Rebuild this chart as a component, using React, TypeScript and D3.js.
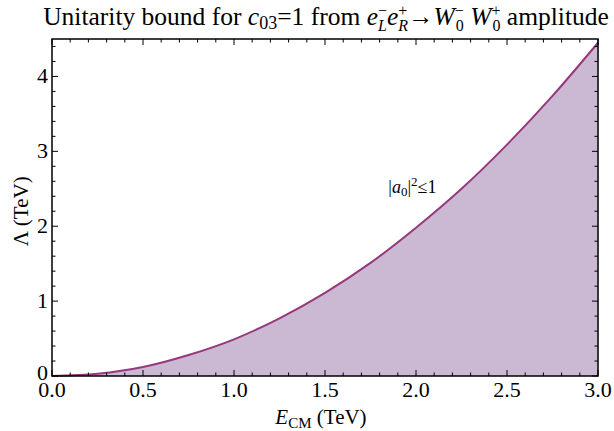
import React, { useRef, useEffect } from "react";
import * as d3 from "d3";

// values (TeV)
const energy = [0, 0.25, 0.5, 0.75, 1.0, 1.25, 1.5, 1.75, 2.0, 2.25, 2.5, 2.75, 3.0];
const lambda = [0, 0.03, 0.12, 0.28, 0.49, 0.77, 1.11, 1.51, 1.98, 2.5, 3.09, 3.74, 4.45];
const xTicks = [0, 0.5, 1.0, 1.5, 2.0, 2.5, 3.0];
const yTicks = [0, 1, 2, 3, 4];
const regionLabel = { e: 1.98, l: 2.45 };

const FONT = "'Liberation Serif', 'DejaVu Serif', serif";

function App() {
  const svgRef = useRef<SVGSVGElement>(null);

  useEffect(() => {
    const svg = d3.select(svgRef.current);
    svg.selectAll("*").remove();

    const width = 614;
    const height = 431;
    const margin = { left: 52, right: 16, top: 39, bottom: 55 };

    const x = d3.scaleLinear().domain([0, 3]).range([margin.left, width - margin.right]);
    const y = d3.scaleLinear().domain([0, 4.5]).range([height - margin.bottom, margin.top]);

    const data = energy.map((e, i) => ({ e, l: lambda[i] }));

    const area = d3
      .area<{ e: number; l: number }>()
      .x((d) => x(d.e))
      .y0(y(0))
      .y1((d) => y(d.l))
      .curve(d3.curveMonotoneX);
    const line = d3
      .line<{ e: number; l: number }>()
      .x((d) => x(d.e))
      .y((d) => y(d.l))
      .curve(d3.curveMonotoneX);

    const content = svg.append("g");
    content.append("path").attr("d", area(data)).attr("fill", "#cbb9d4");
    content
      .append("path")
      .attr("d", line(data))
      .attr("fill", "none")
      .attr("stroke", "#96387d")
      .attr("stroke-width", 2);

    // frame
    const axes = svg.append("g");
    axes
      .append("rect")
      .attr("x", margin.left)
      .attr("y", margin.top)
      .attr("width", width - margin.left - margin.right)
      .attr("height", height - margin.top - margin.bottom)
      .attr("fill", "none")
      .attr("stroke", "#000")
      .attr("stroke-width", 1.5);

    // ticks on all four sides, pointing inward
    const xMinor = d3.range(0, 3.0001, 0.1);
    const yMinor = d3.range(0, 4.5001, 0.2);
    const isMajor = (v: number, step: number) => Math.abs(v / step - Math.round(v / step)) < 1e-6;
    xMinor.forEach((v) => {
      const len = isMajor(v, 0.5) ? 6 : 3.5;
      axes.append("line").attr("x1", x(v)).attr("x2", x(v)).attr("y1", y(0)).attr("y2", y(0) - len).attr("stroke", "#000");
      axes.append("line").attr("x1", x(v)).attr("x2", x(v)).attr("y1", margin.top).attr("y2", margin.top + len).attr("stroke", "#000");
    });
    yMinor.forEach((v) => {
      const len = isMajor(v, 1) ? 6 : 3.5;
      axes.append("line").attr("y1", y(v)).attr("y2", y(v)).attr("x1", x(0)).attr("x2", x(0) + len).attr("stroke", "#000");
      axes.append("line").attr("y1", y(v)).attr("y2", y(v)).attr("x1", x(3)).attr("x2", x(3) - len).attr("stroke", "#000");
    });

    axes
      .selectAll(".xl")
      .data(xTicks)
      .join("text")
      .attr("x", (d) => x(d))
      .attr("y", y(0) + 21)
      .attr("text-anchor", "middle")
      .attr("font-family", FONT)
      .attr("font-size", 22)
      .text((d) => d3.format(".1f")(d));

    axes
      .selectAll(".yl")
      .data(yTicks)
      .join("text")
      .attr("x", x(0) - 4)
      .attr("y", (d) => y(d) + (d === 0 ? 4 : 7))
      .attr("text-anchor", "end")
      .attr("font-family", FONT)
      .attr("font-size", 22)
      .text((d) => d);

    // axis labels
    const xl = axes
      .append("text")
      .attr("x", x(1.5) - 4)
      .attr("y", height - 7)
      .attr("text-anchor", "middle")
      .attr("font-family", FONT)
      .attr("font-size", 21);
    xl.append("tspan").attr("font-style", "italic").text("E");
    xl.append("tspan").attr("font-size", 15).attr("dy", 4).text("CM");
    xl.append("tspan").attr("dy", -4).text(" (TeV)");

    axes
      .append("text")
      .attr("transform", `translate(28,${y(2.2)}) rotate(-90)`)
      .attr("text-anchor", "middle")
      .attr("font-family", FONT)
      .attr("font-size", 21)
      .text("Λ (TeV)");

    // region label
    const rl = content
      .append("text")
      .attr("x", x(regionLabel.e))
      .attr("y", y(regionLabel.l))
      .attr("text-anchor", "middle")
      .attr("font-family", FONT)
      .attr("font-size", 18);
    rl.append("tspan").text("|");
    rl.append("tspan").attr("font-style", "italic").text("a");
    rl.append("tspan").attr("font-size", 13).attr("dy", 3).text("0");
    rl.append("tspan").attr("dy", -3).text("|");
    rl.append("tspan").attr("font-size", 13).attr("dy", -7).text("2");
    rl.append("tspan").attr("dy", 7).text("≤1");

    // title
    const t = svg
      .append("text")
      .attr("x", 326)
      .attr("y", 25)
      .attr("text-anchor", "middle")
      .attr("font-family", FONT)
      .attr("font-size", 25.5);
    t.append("tspan").text("Unitarity bound for ");
    t.append("tspan").attr("font-style", "italic").text("c");
    t.append("tspan").attr("font-size", 18).attr("dy", 4).text("03");
    t.append("tspan").attr("dy", -4).text("=1 from ");
    t.append("tspan").attr("font-style", "italic").text("e");
    t.append("tspan").attr("font-size", 16).attr("dy", -9).text("−");
    t.append("tspan").attr("font-size", 16).attr("font-style", "italic").attr("dx", -9).attr("dy", 15).text("L");
    t.append("tspan").attr("font-style", "italic").attr("dy", -6).text("e");
    t.append("tspan").attr("font-size", 16).attr("dy", -9).text("+");
    t.append("tspan").attr("font-size", 16).attr("font-style", "italic").attr("dx", -9).attr("dy", 15).text("R");
    t.append("tspan").attr("dy", -6).text("→");
    t.append("tspan").attr("font-style", "italic").text("W");
    t.append("tspan").attr("font-size", 16).attr("dy", -9).text("−");
    t.append("tspan").attr("font-size", 16).attr("dx", -8).attr("dy", 15).text("0");
    t.append("tspan").attr("font-style", "italic").attr("dy", -6).text(" W");
    t.append("tspan").attr("font-size", 16).attr("dy", -9).text("+");
    t.append("tspan").attr("font-size", 16).attr("dx", -8).attr("dy", 15).text("0");
    t.append("tspan").attr("dy", -6).text(" amplitude");
  }, []);

  return (
    <div style={{ position: "absolute", left: 0, top: 0 }}>
      <svg ref={svgRef} width={614} height={431} style={{ display: "block", background: "#fff" }}></svg>
    </div>
  );
}

export default App;
